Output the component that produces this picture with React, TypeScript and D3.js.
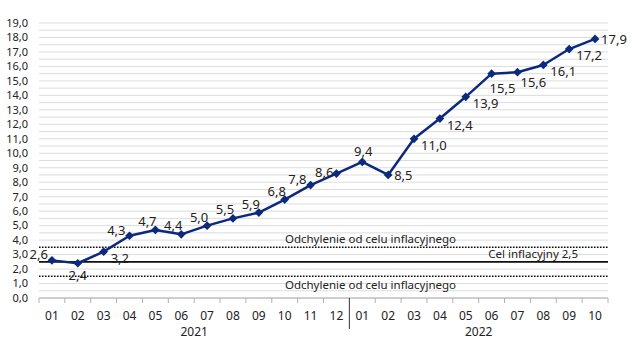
import React from "react";
import * as d3 from "d3";

const months = ["01","02","03","04","05","06","07","08","09","10","11","12","01","02","03","04","05","06","07","08","09","10"];
const monthKeys = months.map((m, i) => `${i < 12 ? 2021 : 2022}-${m}`);
const cpi = [2.6,2.4,3.2,4.3,4.7,4.4,5.0,5.5,5.9,6.8,7.8,8.6,9.4,8.5,11.0,12.4,13.9,15.5,15.6,16.1,17.2,17.9];
const labelPos = ["tl","b","br","tl","t","t","t","t","t","t","tl","l","tc","r","br","br","br","bs","bbr","br","br","r"];
const years = [{ label: "2021", from: 0, to: 12 }, { label: "2022", from: 12, to: 22 }];
const yTicks = d3.range(0, 19.01, 1);
const gridVals = d3.range(0, 19.01, 0.5);
const target = 2.5;
const upperBand = 3.5;
const lowerBand = 1.5;
const bandLabel = "Odchylenie od celu inflacyjnego";
const targetLabel = "Cel inflacyjny 2,5";

const W = 632, H = 356;
const M = { left: 39, right: 24, top: 23, bottom: 58 };
const FONT = "'Noto Sans', 'Open Sans', sans-serif";
const NAVY = "#0c2a7d";

const fmt = (v: number) => v.toFixed(1).replace(".", ",");

export default function App() {
  const x = d3.scaleBand<string>().domain(monthKeys).range([M.left, W - M.right]).paddingInner(0).paddingOuter(0);
  const y = d3.scaleLinear().domain([0, 19]).range([H - M.bottom, M.top]);
  const cx = (i: number) => (x(monthKeys[i]) as number) + x.bandwidth() / 2;
  const x0 = M.left, x1 = W - M.right;
  const yBase = y(0);
  const line = d3.line<number>().x((_, i) => cx(i)).y((d) => y(d));
  const diamond = d3.symbol().type(d3.symbolSquare).size(38)();

  const labelAttrs = (pos: string, px: number, py: number) => {
    switch (pos) {
      case "tl": return { x: px - 4, y: py - 1, anchor: "end" };
      case "t": return { x: px - 8, y: py - 4, anchor: "middle" };
      case "tc": return { x: px + 1, y: py - 6, anchor: "middle" };
      case "l": return { x: px - 3, y: py + 3, anchor: "end" };
      case "b": return { x: px, y: py + 17, anchor: "middle" };
      case "bs": return { x: px - 2, y: py + 19, anchor: "start" };
      case "bbr": return { x: px + 3, y: py + 15, anchor: "start" };
      case "br": return { x: px + 7, y: py + 11, anchor: "start" };
      case "r": return { x: px + 6, y: py + 5, anchor: "start" };
      default: return { x: px, y: py - 6, anchor: "middle" };
    }
  };

  return (
    <svg width={W} height={H} style={{ position: "fixed", left: 0, top: 0, background: "#fff" }} fontFamily={FONT}>
      {gridVals.map((v) => (
        <line key={`g${v}`} x1={x0} x2={x1} y1={y(v)} y2={y(v)} stroke="#dcdcdc" strokeWidth={1} />
      ))}
      {yTicks.map((v) => (
        <text key={`yt${v}`} x={28} y={y(v)} dy="0.35em" textAnchor="end" fontSize={11} fill="#222">{fmt(v)}</text>
      ))}
      {/* x axis */}
      <line x1={x0} x2={x1} y1={yBase} y2={yBase} stroke="#b0b0b0" strokeWidth={1} />
      {d3.range(0, monthKeys.length + 1).map((i) => {
        const xx = i < monthKeys.length ? (x(monthKeys[i]) as number) : x1;
        const sep = i === 12;
        return <line key={`tk${i}`} x1={xx} x2={xx} y1={yBase} y2={sep ? yBase + 31 : yBase + 5} stroke={sep ? "#333" : "#b0b0b0"} strokeWidth={1} />;
      })}
      {months.map((m, i) => (
        <text key={`xl${i}`} x={cx(i)} y={yBase + 22} textAnchor="middle" fontSize={12} fill="#222">{m}</text>
      ))}
      {years.map((yr) => (
        <text key={yr.label} x={(cx(yr.from) + cx(yr.to - 1)) / 2} y={yBase + 38} textAnchor="middle" fontSize={12} fill="#222">{yr.label}</text>
      ))}
      {/* target band */}
      <line x1={x0} x2={x1} y1={y(upperBand)} y2={y(upperBand)} stroke="#111" strokeWidth={1.5} strokeDasharray="1.5 1.5" />
      <line x1={x0} x2={x1} y1={y(lowerBand)} y2={y(lowerBand)} stroke="#111" strokeWidth={1.5} strokeDasharray="1.5 1.5" />
      <line x1={x0} x2={x1} y1={y(target)} y2={y(target)} stroke="#111" strokeWidth={1.8} />
      <text x={456} y={y(upperBand) - 4} textAnchor="end" fontSize={11.5} fill="#222">{bandLabel}</text>
      <text x={456} y={y(lowerBand) + 13} textAnchor="end" fontSize={11.5} fill="#222">{bandLabel}</text>
      <text x={578} y={y(target) - 4} textAnchor="end" fontSize={11.5} fill="#222">{targetLabel}</text>
      {/* series */}
      <path d={line(cpi) || ""} fill="none" stroke={NAVY} strokeWidth={2.5} strokeLinejoin="round" />
      {cpi.map((v, i) => (
        <path key={`m${i}`} d={diamond || ""} transform={`translate(${cx(i)},${y(v)}) rotate(45)`} fill={NAVY} />
      ))}
      {cpi.map((v, i) => {
        const a = labelAttrs(labelPos[i], cx(i), y(v));
        return <text key={`dl${i}`} x={a.x} y={a.y} textAnchor={a.anchor as any} fontSize={13} fill="#222">{fmt(v)}</text>;
      })}
    </svg>
  );
}
